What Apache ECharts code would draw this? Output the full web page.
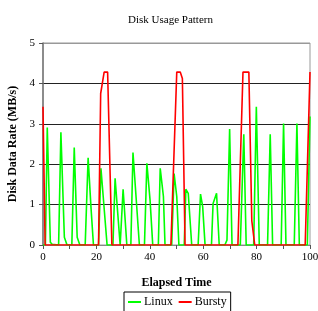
<!DOCTYPE html>
<html>
<head>
<meta charset="utf-8">
<script src="https://cdn.jsdelivr.net/npm/echarts@6/dist/echarts.min.js"></script>
<style>
  html, body { margin: 0; padding: 0; background: #fff; }
  #chart { width: 318px; height: 311px; }
</style>
</head>
<body>
<div id="chart"></div>
<script>
  // values
  const linuxTime = [0, 0.9, 1.6, 2.75, 3.4, 4, 5.85, 6.7, 8, 9, 10.8, 11.7, 12.8, 13.8, 15.8, 16.9, 18, 18.9,
    20.8, 21.7, 24, 26.2, 27, 28.9, 29.2, 30, 31.4, 32.9, 33.7, 36.1, 38, 38.9, 40.1, 41.1, 43.2, 43.9, 45.1, 45.7,
    48.2, 49.1, 50.1, 50.9, 52.9, 53.5, 54.4, 55.7, 58.1, 59, 59.8, 60.7, 63.1, 63.7, 65, 66, 68.1, 68.9, 69.9, 70.8,
    73.9, 75.2, 76.1, 78.9, 79.9, 81, 84.1, 85.1, 86, 89.2, 90.1, 91, 94.1, 95.1, 96, 99, 100];
  const linuxRate = [0, 0, 2.91, 0.07, 0.02, 0, 0, 2.79, 0.19, 0, 0, 2.41, 0.19, 0, 0, 2.16, 0.9, 0,
    0, 1.9, 0, 0, 1.65, 0, 0, 1.38, 0, 0, 2.29, 0, 0, 2.02, 1.11, 0, 0, 1.9, 1.2, 0,
    0, 1.77, 1.2, 0, 0, 1.38, 1.28, 0, 0, 1.26, 0.95, 0, 0, 1.03, 1.28, 0, 0, 0.12, 2.87, 0,
    0, 2.74, 0, 0, 3.42, 0, 0, 2.74, 0, 0, 3.01, 0, 0, 3.01, 0, 0, 3.18];
  const burstyTime = [0, 0.8, 20.8, 21.6, 22.9, 24.2, 25.8, 47.9, 50.1, 51.4, 52.2, 53.2, 73, 74.9, 77.1, 78.2, 79.3, 98.2, 100];
  const burstyRate = [3.42, 0, 0, 3.75, 4.28, 4.28, 0, 0, 4.28, 4.28, 4.12, 0, 0, 4.28, 4.28, 0.6, 0, 0, 4.28];
  const seriesNames = ['Linux', 'Bursty'];

  const serif = '"Liberation Serif", "DejaVu Serif", serif';
  const zip = (xs, ys) => xs.map((x, i) => [x, ys[i]]);

  const chart = echarts.init(document.getElementById('chart'));
  chart.setOption({
    animation: false,
    backgroundColor: '#fff',
    title: {
      text: 'Disk Usage Pattern',
      left: 123,
      top: 10,
      textStyle: { fontFamily: serif, fontSize: 11, fontWeight: 'normal', color: '#000' }
    },
    grid: {
      left: 43, right: 8, top: 43, bottom: 66,
      outerBoundsMode: 'none',
      containLabel: false,
      show: true, borderColor: '#999', borderWidth: 1
    },
    legend: {
      data: seriesNames,
      bottom: -3,
      left: 124,
      icon: 'rect',
      itemWidth: 13,
      itemHeight: 2,
      itemGap: 6,
      padding: [4, 4, 6, 4],
      borderColor: '#000',
      borderWidth: 1,
      textStyle: { fontFamily: serif, fontSize: 12, color: '#000', padding: [0, 0, 0, -2] }
    },
    xAxis: {
      type: 'value',
      min: 0, max: 100, interval: 10,
      name: 'Elapsed Time',
      nameLocation: 'middle',
      nameGap: 32,
      nameTextStyle: { fontFamily: serif, fontSize: 12, fontWeight: 'bold', color: '#000' },
      axisLine: { show: true, lineStyle: { color: '#888', width: 1 } },
      axisTick: { show: true, length: 4, lineStyle: { color: '#555' } },
      axisLabel: {
        fontFamily: serif, fontSize: 11, color: '#000', margin: 7,
        formatter: v => (v % 20 === 0 ? String(v) : '')
      },
      splitLine: { show: false }
    },
    yAxis: {
      type: 'value',
      min: 0, max: 5, interval: 1,
      name: 'Disk Data Rate (MB/s)',
      nameLocation: 'middle',
      nameGap: 22,
      nameTextStyle: { fontFamily: serif, fontSize: 12, fontWeight: 'bold', color: '#000' },
      axisLine: { show: true, lineStyle: { color: '#777', width: 1.5 } },
      axisTick: { show: true, length: 4, lineStyle: { color: '#555' } },
      axisLabel: { fontFamily: serif, fontSize: 11, color: '#000', margin: 8 },
      splitLine: { show: true, lineStyle: { color: ['#222', '#222', '#222', '#222', '#222', '#999'], width: 1 } }
    },
    series: [{
      name: seriesNames[0],
      type: 'line',
      data: zip(linuxTime, linuxRate),
      symbol: 'none',
      lineStyle: { color: '#00ff00', width: 1.6 },
      itemStyle: { color: '#00ff00' }
    }, {
      name: seriesNames[1],
      type: 'line',
      data: zip(burstyTime, burstyRate),
      symbol: 'none',
      lineStyle: { color: '#ff0000', width: 1.6 },
      itemStyle: { color: '#ff0000' }
    }]
  });
</script>
</body>
</html>
